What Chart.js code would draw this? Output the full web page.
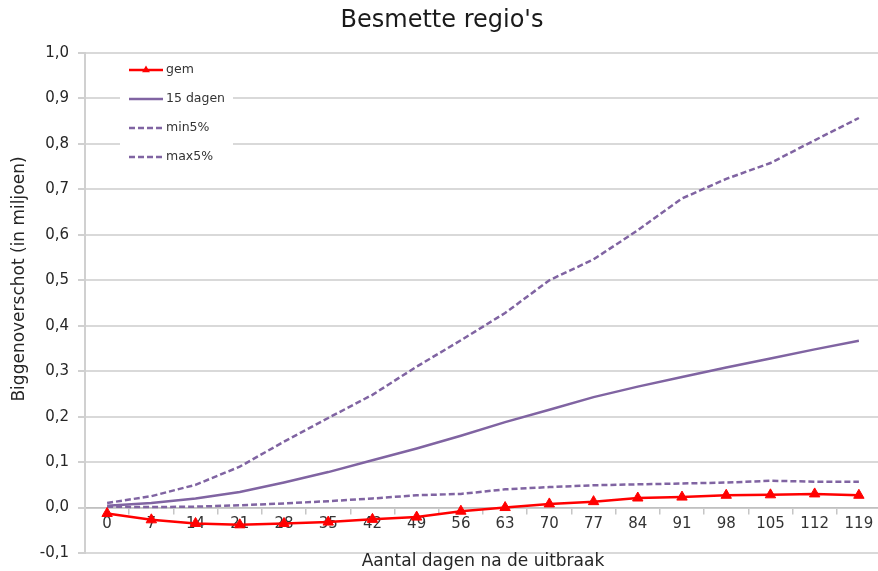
<!DOCTYPE html>
<html>
<head>
<meta charset="utf-8">
<script src="https://cdn.jsdelivr.net/npm/chart.js@4.4.1/dist/chart.umd.min.js"></script>
<style>
    html, body { margin: 0; padding: 0; overflow: hidden; background: #ffffff; }
    #wrap { width: 888px; height: 571px; }
</style>
</head>
<body>
<div id="wrap"><canvas id="chart" width="888" height="571"></canvas></div>
<script>
// Values (millions of piglets)
const days = ['0', '7', '14', '21', '28', '35', '42', '49', '56', '63', '70', '77', '84', '91', '98', '105', '112', '119'];
const gem = [-0.013, -0.027, -0.035, -0.038, -0.035, -0.032, -0.026, -0.021, -0.008, 0.000, 0.008, 0.013, 0.021, 0.023, 0.027, 0.028, 0.030, 0.027];
const dagen15 = [0.004, 0.010, 0.020, 0.034, 0.055, 0.078, 0.104, 0.130, 0.158, 0.188, 0.215, 0.243, 0.266, 0.287, 0.308, 0.328, 0.348, 0.367];
const min5 = [0.002, 0.001, 0.002, 0.005, 0.009, 0.014, 0.020, 0.027, 0.030, 0.040, 0.045, 0.049, 0.051, 0.053, 0.055, 0.059, 0.057, 0.057];
const max5 = [0.010, 0.025, 0.050, 0.090, 0.145, 0.197, 0.248, 0.310, 0.368, 0.428, 0.500, 0.546, 0.610, 0.680, 0.723, 0.758, 0.808, 0.857];

const yMin = -0.1;
const yMax = 1.0;
const yStep = 0.1;

const titleText = "Besmette regio's";
const xTitle = 'Aantal dagen na de uitbraak';
const yTitle = 'Biggenoverschot (in miljoen)';

const RED = '#ff0000';
const PURPLE = '#8064a2';
const FONT = '"DejaVu Sans", Verdana, sans-serif';

// legend inside the plot + axis titles, drawn by hand like Excel does
const extrasPlugin = {
    id: 'extras',
    afterDraw(chart) {
        const ctx = chart.ctx;
        const area = chart.chartArea;

        ctx.save();
        ctx.fillStyle = '#262626';
        ctx.font = '17px ' + FONT;
        ctx.textAlign = 'center';
        ctx.textBaseline = 'alphabetic';
        ctx.fillText(xTitle, (area.left + area.right) / 2, 566);

        ctx.translate(24, 279);
        ctx.rotate(-Math.PI / 2);
        ctx.fillText(yTitle, 0, 0);
        ctx.restore();

        // legend box
        const boxX = area.left + 35;
        const boxY = area.top + 4;
        ctx.save();
        ctx.fillStyle = '#ffffff';
        ctx.fillRect(boxX, boxY, 113, 114);
        chart.data.datasets.forEach((ds, i) => {
            const y = area.top + 17 + i * 29;
            const x0 = boxX + 9;
            const x1 = boxX + 43;
            ctx.strokeStyle = ds.borderColor;
            ctx.lineWidth = ds.borderWidth;
            ctx.setLineDash(ds.borderDash || []);
            ctx.beginPath();
            ctx.moveTo(x0, y);
            ctx.lineTo(x1, y);
            ctx.stroke();
            ctx.setLineDash([]);
            if (ds.pointRadius > 0) {
                const cx = (x0 + x1) / 2;
                const r = 4.5;
                ctx.fillStyle = ds.pointBackgroundColor;
                ctx.beginPath();
                ctx.moveTo(cx, y - r);
                ctx.lineTo(cx + r * 0.87, y + r * 0.5);
                ctx.lineTo(cx - r * 0.87, y + r * 0.5);
                ctx.closePath();
                ctx.fill();
            }
            ctx.fillStyle = '#333333';
            ctx.font = '12.5px ' + FONT;
            ctx.textAlign = 'left';
            ctx.textBaseline = 'middle';
            ctx.fillText(ds.label, x1 + 3, y);
        });
        ctx.restore();
    },
};

new Chart(document.getElementById('chart'), {
    type: 'line',
    data: {
        labels: days,
        datasets: [
            {
                label: 'gem',
                data: gem,
                borderColor: RED,
                borderWidth: 2.5,
                pointStyle: 'triangle',
                pointRadius: 6,
                pointBackgroundColor: RED,
                pointBorderColor: RED,
                pointBorderWidth: 1,
            },
            {
                label: '15 dagen',
                data: dagen15,
                borderColor: PURPLE,
                borderWidth: 2.5,
                pointRadius: 0,
            },
            {
                label: 'min5%',
                data: min5,
                borderColor: PURPLE,
                borderWidth: 2.5,
                borderDash: [6, 3],
                pointRadius: 0,
            },
            {
                label: 'max5%',
                data: max5,
                borderColor: PURPLE,
                borderWidth: 2.5,
                borderDash: [6, 3],
                pointRadius: 0,
            },
        ],
    },
    options: {
        responsive: false,
        animation: false,
        devicePixelRatio: 1,
        layout: { padding: { left: 0, right: 4, top: 0, bottom: 0 } },
        plugins: {
            legend: { display: false },
            tooltip: { enabled: false },
            title: {
                display: true,
                text: titleText,
                color: '#1a1a1a',
                font: { family: FONT, size: 24, weight: 'normal' },
                padding: { top: 6, bottom: 18.2 },
            },
        },
        scales: {
            x: {
                type: 'category',
                position: { y: 0 },
                offset: true,
                afterFit: (scale) => { scale.height = 24; },
                grid: {
                    offset: true,
                    drawOnChartArea: false,
                    drawTicks: true,
                    tickLength: 6,
                    color: '#c6c6c6',
                    lineWidth: 1.5,
                },
                border: { display: true, color: '#c0c0c0', width: 1.5 },
                ticks: {
                    color: '#333333',
                    font: { family: FONT, size: 15 },
                    padding: 2,
                    maxRotation: 0,
                    autoSkip: false,
                },
            },
            y: {
                min: yMin,
                max: yMax,
                afterFit: (scale) => { scale.width = 85; },
                grid: {
                    color: '#d9d9d9',
                    lineWidth: 2,
                    drawTicks: true,
                    tickLength: 7,
                    tickColor: '#d0d0d0',
                },
                border: { display: true, color: '#d0d0d0', width: 2 },
                ticks: {
                    stepSize: yStep,
                    color: '#262626',
                    font: { family: FONT, size: 15 },
                    padding: 9,
                    callback: (v) => {
                        let n = Math.round(v * 10) / 10;
                        if (Math.abs(n) < 1e-9) n = 0;
                        return n.toFixed(1).replace('.', ',');
                    },
                },
            },
        },
    },
    plugins: [extrasPlugin],
});
</script>
</body>
</html>
